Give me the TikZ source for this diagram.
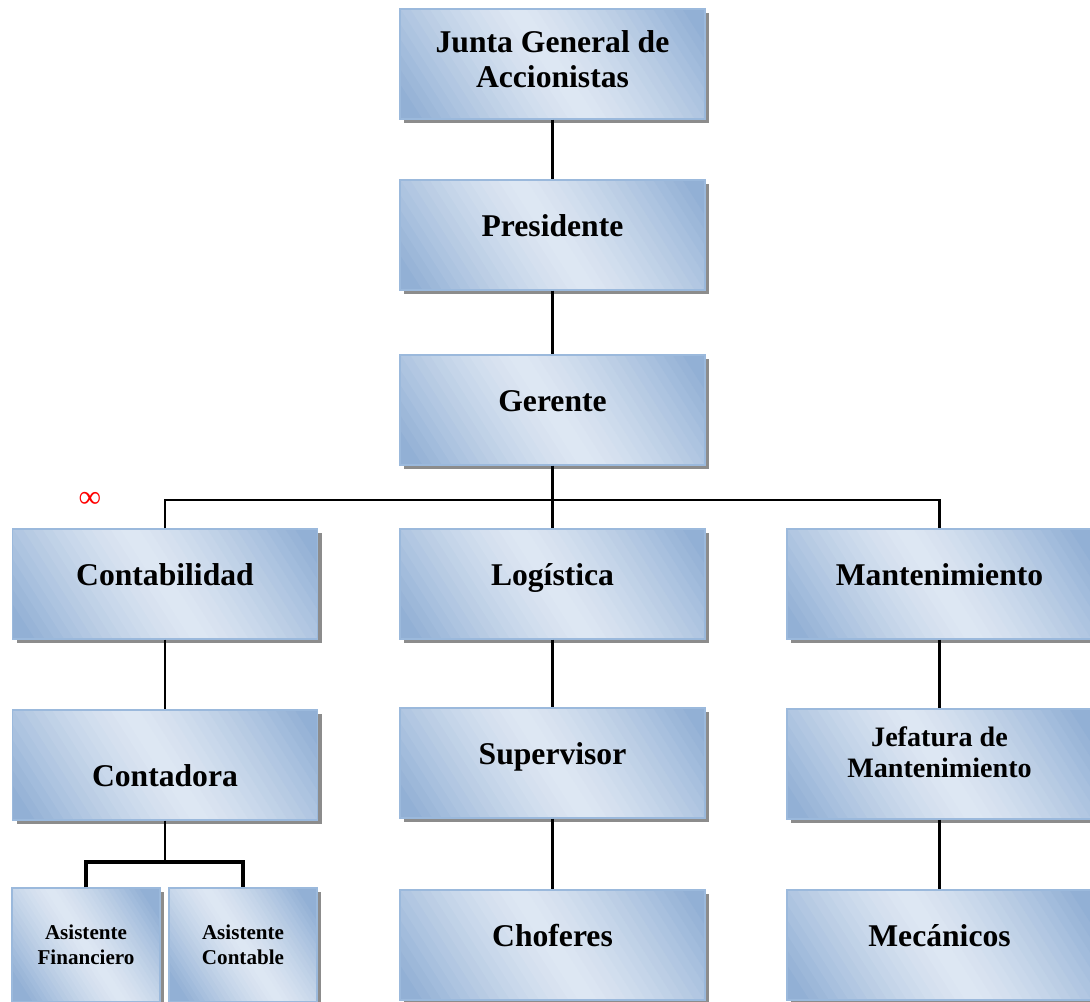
\documentclass[tikz,border=0pt]{standalone}
\usepackage{fontspec}
\setmainfont{Liberation Serif}
\usepackage{tikz}
\definecolor{boxdark}{RGB}{146,176,213}
\definecolor{boxlight}{RGB}{222,231,243}
\definecolor{boxline}{RGB}{155,185,220}
% diagonal blue gradient, #1 = half span of the bands
\newcommand{\bluefade}[1]{
	\foreach \k in {-8,...,43} {
		\pgfmathsetmacro{\shadepct}{min(100,100*(abs(\k-17.5)/17.5)^1.3)}
		\pgfmathsetmacro{\bandx}{(\k-18)*#1/18}
		\fill[boxdark!\shadepct!boxlight] (path picture bounding box.center) ++(\bandx-0.9,1.4) -- ++(#1/18+0.05,0) -- ++(1.8,-2.8) -- ++(-#1/18-0.05,0) -- cycle;
	}
}
\tikzset{
	orgbox/.style={draw=boxline, line width=0.8pt,
		preaction={fill=black!45, transform canvas={xshift=0.08cm, yshift=-0.08cm}},
		fill=boxlight, path picture={\bluefade{3.5}},
		minimum width=6.1cm, minimum height=2.2cm, align=center, inner sep=2pt, font=\bfseries\fontsize{18}{20}\selectfont},
	oneline/.style={text height=14pt, text depth=12pt},
	smallbox/.style={orgbox, path picture={\bluefade{1.9}}, minimum width=2.96cm, minimum height=2.28cm, font=\bfseries\fontsize{12}{14}\selectfont},
	link/.style={line width=1.2pt},
}
\newcommand{\tie}[2]{\draw[link] (#1.south) -- (#2.north);}

\begin{document}
\begin{tikzpicture}
	\useasboundingbox (0,0) rectangle (21.8,-20.04);
	%top of the chart
	\node[orgbox] (junta) at (11.05,-1.28) {Junta General de\\Accionistas\\[-14pt]};
	\node[orgbox, oneline] (pres) at (11.05,-4.7) {Presidente};
	\node[orgbox, oneline] (ger) at (11.05,-8.2) {Gerente};
	%areas
	\node[orgbox, oneline] (conta) at (3.3,-11.68) {Contabilidad};
	\node[orgbox, oneline] (logi) at (11.05,-11.68) {Log\'istica};
	\node[orgbox, oneline] (mant) at (18.79,-11.68) {Mantenimiento};
	%second level
	\node[orgbox, text height=26pt, text depth=2pt] (contadora) at (3.3,-15.3) {Contadora};
	\node[orgbox, oneline] (super) at (11.05,-15.26) {Supervisor};
	\node[orgbox, font=\bfseries\fontsize{16}{18}\selectfont] (jefe) at (18.79,-15.28) {Jefatura de\\Mantenimiento\\[-4.5pt]};
	%bottom row
	\node[smallbox] (asisf) at (1.72,-18.9) {Asistente\\Financiero};
	\node[smallbox] (asisc) at (4.86,-18.9) {Asistente\\Contable};
	\node[orgbox, oneline] (chof) at (11.05,-18.9) {Choferes};
	\node[orgbox, oneline] (meca) at (18.79,-18.9) {Mec\'anicos};
	%red mark
	\node[text=red, font=\fontsize{18}{19}\selectfont] (mark) at (1.8,-10.0) {∞};
	%connectors
	\tie{junta}{pres}
	\tie{pres}{ger}
	\tie{ger}{logi}
	\coordinate (bus) at (3.3,-10.0);
	\draw[link] (conta.north) -- (bus) -| (mant.north);
	\tie{conta}{contadora}
	\tie{logi}{super}
	\tie{super}{chof}
	\tie{mant}{jefe}
	\tie{jefe}{meca}
	%assistants
	\coordinate (split) at (3.3,-17.24);
	\draw[link] (contadora.south) -- (split);
	\draw[line width=2pt] (asisf.north) |- (split) -| (asisc.north);
\end{tikzpicture}
\end{document}
